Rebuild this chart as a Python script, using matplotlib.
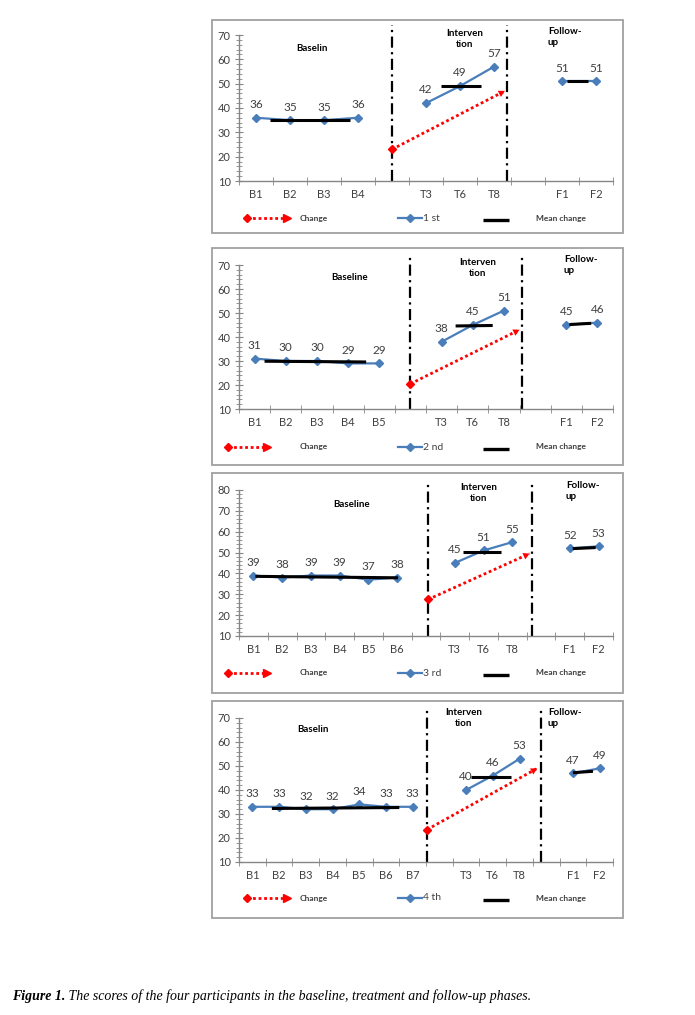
import matplotlib.pyplot as plt
from matplotlib.patches import Rectangle
from matplotlib.ticker import FixedLocator, MultipleLocator

W, H = 695, 1015

# scores
baseline = [
    [36, 35, 35, 36],
    [31, 30, 30, 29, 29],
    [39, 38, 39, 39, 37, 38],
    [33, 33, 32, 32, 34, 33, 33],
]
intervention = [
    [42, 49, 57],
    [38, 45, 51],
    [45, 51, 55],
    [40, 46, 53],
]
follow_up = [
    [51, 51],
    [45, 46],
    [52, 53],
    [47, 49],
]
participants = ["1 st", "2 nd", "3 rd", "4 th"]
y_tops = [70, 70, 80, 70]
intervention_labels = ["T3", "T6", "T8"]
follow_labels = ["F1", "F2"]

# mean change segments: (x0, x1, y0, y1) in category units
mean_lines = [
    [(0.41, 2.76, 35.0, 35.0), (5.44, 6.62, 49.0, 49.0), (9.15, 9.76, 51.2, 51.2)],
    [(0.32, 3.58, 29.9, 29.6), (6.45, 7.64, 44.6, 44.8), (10.1, 10.8, 45.2, 45.7)],
    [(0.07, 5.03, 38.6, 37.9), (7.3, 8.6, 50.3, 50.3), (11.1, 11.9, 51.9, 52.4)],
    [(0.73, 5.5, 32.3, 32.7), (8.2, 9.7, 45.3, 45.3), (12.0, 12.75, 47.2, 47.8)],
]
# change arrows: (x0, y0, x1, y1)
change_arrows = [
    (4.0, 23.0, 7.32, 47.0),
    (5.0, 20.5, 8.5, 43.0),
    (6.07, 27.5, 9.6, 49.5),
    (6.54, 23.5, 10.66, 49.0),
]
phase_lines = [(4.0, 7.38), (5.0, 8.57), (6.07, 9.68), (6.54, 10.8)]
baseline_titles = ["Baselin", "Baseline", "Baseline", "Baselin"]

# layout in pixels
boxes = [(212, 20, 623, 233), (212, 248, 623, 465), (212, 473, 623, 693), (212, 701, 623, 918)]
axes_px = [(239, 35, 613, 181), (239, 265, 613, 409), (239, 490, 613, 636), (239, 718, 613, 862)]
legend_y = [218, 447, 673, 898]
legend_arrow_x = [(247, 288), (228, 268), (228, 268), (247, 288)]
baseline_pos = [(312, 48), (350, 278), (352, 504), (313, 729)]
interv_pos = [(465, 39), (478, 268), (479, 493), (464, 718)]
follow_pos = [(548, 37), (564, 265), (566, 491), (548, 718)]

BLUE = "#4A7EBB"
TEXT = "#404040"
AXIS = "#868686"
FONT = "Lato"

fig = plt.figure(figsize=(W / 100, H / 100), dpi=100)
canvas = fig.add_axes([0, 0, 1, 1])
canvas.set_xlim(0, W)
canvas.set_ylim(H, 0)
canvas.axis("off")

for p in range(4):
    bx0, by0, bx1, by1 = boxes[p]
    canvas.add_patch(
        Rectangle((bx0, by0), bx1 - bx0, by1 - by0,
                  fill=False, edgecolor="#A0A0A0", linewidth=1.3)
    )

    nb = len(baseline[p])
    cats = [f"B{i + 1}" for i in range(nb)] + [""] + intervention_labels + [""] + follow_labels
    n = len(cats)
    xb = list(range(nb))
    xt = [nb + 1 + i for i in range(3)]
    xf = [nb + 5, nb + 6]

    ax0, ay0, ax1, ay1 = axes_px[p]
    ax = fig.add_axes([ax0 / W, 1 - ay1 / H, (ax1 - ax0) / W, (ay1 - ay0) / H])
    ax.patch.set_visible(False)
    ax.set_xlim(-0.5, n - 0.5)
    ax.set_ylim(10, y_tops[p])
    for side in ["top", "right"]:
        ax.spines[side].set_visible(False)
    for side in ["left", "bottom"]:
        ax.spines[side].set_color(AXIS)
        ax.spines[side].set_linewidth(1.0)

    ax.yaxis.set_major_locator(MultipleLocator(10))
    ax.yaxis.set_minor_locator(MultipleLocator(2))
    ax.xaxis.set_major_locator(FixedLocator(range(n)))
    ax.xaxis.set_minor_locator(FixedLocator([i - 0.5 for i in range(n + 1)]))
    ax.set_xticklabels(cats)
    ax.tick_params(axis="x", which="major", length=0, pad=6,
                   labelsize=8, labelcolor=TEXT)
    ax.tick_params(axis="x", which="minor", direction="inout", length=6,
                   color=AXIS)
    ax.tick_params(axis="y", which="major", direction="inout", length=6,
                   color=AXIS, pad=3, labelsize=8, labelcolor=TEXT)
    ax.tick_params(axis="y", which="minor", direction="inout", length=5,
                   color=AXIS)
    for lab in ax.get_xticklabels() + ax.get_yticklabels():
        lab.set_fontfamily(FONT)

    for xs, ys in [(xb, baseline[p]), (xt, intervention[p]), (xf, follow_up[p])]:
        ax.plot(xs, ys, color=BLUE, linewidth=1.6, marker="D",
                markersize=4.5, zorder=3)
        for x, y in zip(xs, ys):
            ax.annotate(str(y), (x, y), xytext=(0, 5.5), textcoords="offset points",
                        ha="center", va="bottom", fontsize=8.5, color=TEXT,
                        family=FONT)

    for x0, x1, y0, y1 in mean_lines[p]:
        ax.plot([x0, x1], [y0, y1], color="black", linewidth=2.2,
                solid_capstyle="butt", zorder=4)

    for xv in phase_lines[p]:
        ax.plot([xv, xv], [10, y_tops[p] + 4], color="black", linewidth=1.6,
                linestyle=(0, (5, 2, 1, 2)), clip_on=False, zorder=2)

    cx0, cy0, cx1, cy1 = change_arrows[p]
    ax.plot([cx0, cx1], [cy0, cy1], color="red", linewidth=2.0,
            linestyle=(0, (1, 1)), zorder=5)
    ax.plot([cx0], [cy0], marker="D", color="red", markersize=4.5, zorder=5)
    ax.annotate("", xy=(cx1, cy1), xytext=(cx1 - 0.25 * (cx1 - cx0), cy1 - 0.25 * (cy1 - cy0)),
                arrowprops={"arrowstyle": "-|>,head_width=0.25,head_length=0.45",
                            "color": "red", "linewidth": 0, "shrinkA": 0, "shrinkB": 0},
                zorder=5)

    # phase titles
    canvas.text(*baseline_pos[p], baseline_titles[p], ha="center", va="center",
                fontsize=7, fontweight="bold", color="black", family=FONT)
    canvas.text(*interv_pos[p], "Interven\ntion", ha="center", va="center",
                fontsize=7, fontweight="bold", color="black", family=FONT,
                linespacing=1.25)
    canvas.text(*follow_pos[p], "Follow-\nup", ha="left", va="center",
                fontsize=7, fontweight="bold", color="black", family=FONT,
                linespacing=1.25)

    # legend row
    ly = legend_y[p]
    lx0, lx1 = legend_arrow_x[p]
    canvas.plot([lx0, lx1 - 4], [ly, ly], color="red", linewidth=2.0,
                linestyle=(0, (1, 1)))
    canvas.plot([lx0], [ly], marker="D", color="red", markersize=4.5)
    canvas.plot([lx1 - 1], [ly], marker=">", color="red", markersize=6)
    canvas.text(314, ly, "Change", ha="center", va="center", fontsize=6,
                fontweight="bold", color=TEXT, family=FONT)
    canvas.plot([398, 422], [ly, ly], color=BLUE, linewidth=1.6)
    canvas.plot([410], [ly], color=BLUE, marker="D", markersize=4.5)
    canvas.text(423, ly, participants[p], ha="left", va="center", fontsize=7.5,
                color=TEXT, family=FONT)
    canvas.plot([483, 509], [ly + 2, ly + 2], color="black", linewidth=2.4,
                solid_capstyle="butt")
    canvas.text(561, ly, "Mean change", ha="center", va="center", fontsize=6,
                fontweight="bold", color=TEXT, family=FONT)

t1 = canvas.text(12, 1000, "Figure 1.", ha="left", va="baseline", fontsize=10,
                 fontstyle="italic", fontweight="bold", family="Liberation Serif")
canvas.annotate(" The scores of the four participants in the baseline, treatment and follow-up phases.",
                xy=(1, 0), xycoords=t1, va="bottom", ha="left", fontsize=10,
                fontstyle="italic", family="Liberation Serif")

fig.savefig("out.png", dpi=100)
